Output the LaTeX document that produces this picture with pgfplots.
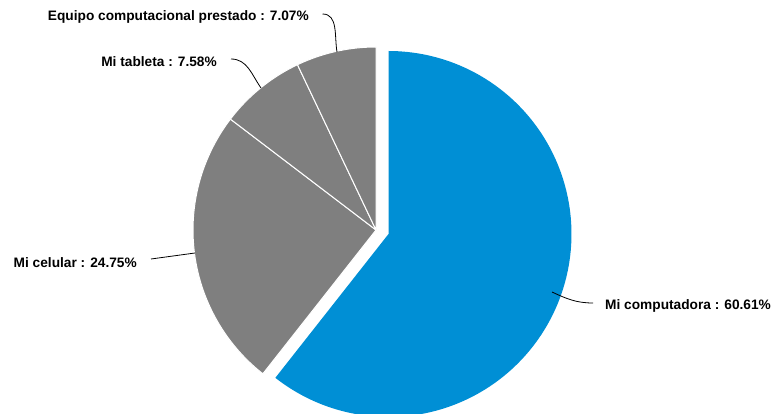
\documentclass[border=0pt]{standalone}
\usepackage{pgfplots}
\pgfplotsset{compat=1.18}
\usepackage{fontspec}
\setmainfont{Liberation Sans}
\definecolor{pieblue}{HTML}{008FD5}
\definecolor{piegray}{HTML}{7F7F7F}
\begin{document}
\begin{tikzpicture}
\path[use as bounding box] (0,0) rectangle (776pt,414pt);
% data (percent)
\def\vA{60.61}% Mi computadora
\def\vB{24.75}% Mi celular
\def\vC{7.58}%  Mi tableta
\def\vD{7.07}%  Equipo computacional prestado
\pgfmathsetmacro\aA{90}
\pgfmathsetmacro\aB{90-3.6*\vA}
\pgfmathsetmacro\aC{\aB-3.6*\vB}
\pgfmathsetmacro\aD{\aC-3.6*\vC}
\pgfmathsetmacro\aE{\aD-3.6*\vD}
\tikzset{lbl/.style={inner sep=0pt,font=\fontsize{13.7}{16}\selectfont\bfseries}}
\begin{axis}[width=776pt,height=414pt,scale only axis,hide axis,
  xmin=0,xmax=776,ymin=0,ymax=414,clip=true]
\addplot[draw=none,fill=pieblue,domain=\aB:\aA,samples=150,variable=\t]
  ({388.5+183*cos(\t)},{180+183*sin(\t)}) -- (axis cs:388.5,180) -- cycle;
\addplot[draw=white,line width=1pt,fill=piegray,domain=\aC:\aB,samples=80,variable=\t]
  ({376+183*cos(\t)},{184+183*sin(\t)}) -- (axis cs:376,184) -- cycle;
\addplot[draw=white,line width=1pt,fill=piegray,domain=\aD:\aC,samples=30,variable=\t]
  ({376+183*cos(\t)},{184+183*sin(\t)}) -- (axis cs:376,184) -- cycle;
\addplot[draw=white,line width=1pt,fill=piegray,domain=\aE:\aD,samples=30,variable=\t]
  ({376+183*cos(\t)},{184+183*sin(\t)}) -- (axis cs:376,184) -- cycle;
% leader lines
\draw[black,line width=0.8pt] (axis cs:322.5,400) to[out=0,in=100] (axis cs:337,362);
\draw[black,line width=0.8pt] (axis cs:231,355) to[out=0,in=125] (axis cs:261,326);
\draw[black,line width=0.8pt] (axis cs:151,155) -- (axis cs:195,161);
\draw[black,line width=0.8pt] (axis cs:552,122) to[out=-25,in=180] (axis cs:593,111);
% labels
\node[lbl,anchor=east] at (axis cs:309,397) {Equipo computacional prestado : 7.07\%};
\node[lbl,anchor=east] at (axis cs:217,352) {Mi tableta : 7.58\%};
\node[lbl,anchor=east] at (axis cs:137,151) {Mi celular : 24.75\%};
\node[lbl,anchor=west] at (axis cs:605,108) {Mi computadora : 60.61\%};
\end{axis}
\end{tikzpicture}
\end{document}
